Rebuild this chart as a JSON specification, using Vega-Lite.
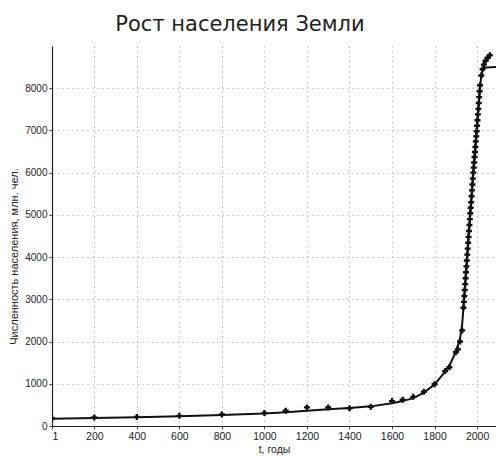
{
  "$schema": "https://vega.github.io/schema/vega-lite/v6.json",
  "width": 444,
  "height": 380,
  "autosize": "none",
  "padding": {"left": 52, "top": 46, "right": 0, "bottom": 30},
  "background": "white",
  "title": {
    "text": "Рост населения Земли",
    "font": "DejaVu Sans",
    "fontSize": 21,
    "fontWeight": "normal",
    "color": "#222222",
    "anchor": "middle",
    "frame": "group",
    "dx": -34,
    "offset": 11
  },
  "datasets": {
    "model": [
      {"t": 1, "n": 170}, {"t": 200, "n": 190}, {"t": 400, "n": 210}, {"t": 600, "n": 232},
      {"t": 800, "n": 258}, {"t": 1000, "n": 295}, {"t": 1100, "n": 325}, {"t": 1200, "n": 362},
      {"t": 1300, "n": 395}, {"t": 1400, "n": 425}, {"t": 1500, "n": 465}, {"t": 1600, "n": 540},
      {"t": 1650, "n": 590}, {"t": 1700, "n": 660}, {"t": 1750, "n": 790}, {"t": 1800, "n": 980},
      {"t": 1850, "n": 1290}, {"t": 1870, "n": 1430}, {"t": 1900, "n": 1760}, {"t": 1920, "n": 2080},
      {"t": 1930, "n": 2420}, {"t": 1936, "n": 2800}, {"t": 1950, "n": 3780}, {"t": 1960, "n": 4480},
      {"t": 1970, "n": 5170}, {"t": 1980, "n": 5860}, {"t": 1990, "n": 6490}, {"t": 2000, "n": 7110},
      {"t": 2010, "n": 7790}, {"t": 2018, "n": 8220}, {"t": 2024, "n": 8400}, {"t": 2030, "n": 8470},
      {"t": 2040, "n": 8490}, {"t": 2089, "n": 8500}
    ],
    "obs": [
      {"t": 1, "n": 185}, {"t": 200, "n": 200}, {"t": 400, "n": 215}, {"t": 600, "n": 240},
      {"t": 800, "n": 275}, {"t": 1000, "n": 310}, {"t": 1100, "n": 360}, {"t": 1200, "n": 440},
      {"t": 1300, "n": 440}, {"t": 1400, "n": 420}, {"t": 1500, "n": 455}, {"t": 1600, "n": 590},
      {"t": 1650, "n": 620}, {"t": 1700, "n": 690}, {"t": 1750, "n": 810}, {"t": 1800, "n": 990},
      {"t": 1850, "n": 1300}, {"t": 1870, "n": 1390}, {"t": 1900, "n": 1745}, {"t": 1910, "n": 1815},
      {"t": 1920, "n": 2000}, {"t": 1930, "n": 2264},
      {"t": 1936, "n": 2800}, {"t": 1938, "n": 2940}, {"t": 1940, "n": 3080}, {"t": 1942, "n": 3220},
      {"t": 1944, "n": 3360}, {"t": 1946, "n": 3500}, {"t": 1948, "n": 3640}, {"t": 1950, "n": 3780},
      {"t": 1952, "n": 3920}, {"t": 1954, "n": 4060}, {"t": 1956, "n": 4200}, {"t": 1958, "n": 4340},
      {"t": 1960, "n": 4480}, {"t": 1962, "n": 4620}, {"t": 1964, "n": 4760}, {"t": 1966, "n": 4900},
      {"t": 1968, "n": 5040}, {"t": 1970, "n": 5170}, {"t": 1972, "n": 5300}, {"t": 1974, "n": 5440},
      {"t": 1976, "n": 5580}, {"t": 1978, "n": 5720}, {"t": 1980, "n": 5860}, {"t": 1982, "n": 6000},
      {"t": 1984, "n": 6120}, {"t": 1986, "n": 6240}, {"t": 1988, "n": 6370}, {"t": 1990, "n": 6490},
      {"t": 1992, "n": 6610}, {"t": 1994, "n": 6740}, {"t": 1996, "n": 6860}, {"t": 1998, "n": 6980},
      {"t": 2000, "n": 7110}, {"t": 2002, "n": 7240}, {"t": 2004, "n": 7380}, {"t": 2006, "n": 7510},
      {"t": 2008, "n": 7650}, {"t": 2010, "n": 7790}, {"t": 2012, "n": 7930}, {"t": 2014, "n": 8070},
      {"t": 2020, "n": 8300}, {"t": 2026, "n": 8450}, {"t": 2032, "n": 8560}, {"t": 2040, "n": 8650},
      {"t": 2050, "n": 8720}, {"t": 2060, "n": 8780}
    ]
  },
  "encoding": {
    "x": {
      "field": "t", "type": "quantitative",
      "scale": {"domain": [1, 2089], "nice": false, "zero": false},
      "axis": {
        "title": "t, годы",
        "values": [1, 200, 400, 600, 800, 1000, 1200, 1400, 1600, 1800, 2000],
        "format": "d",
        "grid": true
      }
    },
    "y": {
      "field": "n", "type": "quantitative",
      "scale": {"domain": [0, 9000], "nice": false},
      "axis": {
        "title": "Численность населения, млн. чел.",
        "values": [0, 1000, 2000, 3000, 4000, 5000, 6000, 7000, 8000],
        "format": "d",
        "grid": true,
        "titleAngle": -90,
        "titleX": -38,
        "titleY": 210,
        "titleAlign": "center",
        "titleBaseline": "middle",
        "titleFontSize": 11
      }
    }
  },
  "layer": [
    {
      "data": {"name": "model"},
      "mark": {"type": "line", "color": "#111111", "strokeWidth": 2, "clip": true}
    },
    {
      "data": {"name": "obs"},
      "mark": {"type": "point", "shape": "cross", "filled": true, "color": "#111111", "size": 36, "opacity": 1, "clip": true}
    }
  ],
  "config": {
    "view": {"stroke": null},
    "axis": {
      "domainColor": "#222222",
      "domainWidth": 1.2,
      "tickColor": "#444444",
      "tickSize": 3,
      "labelFont": "Liberation Sans",
      "labelFontSize": 10,
      "labelColor": "#222222",
      "titleFont": "Liberation Sans",
      "titleFontSize": 10.5,
      "titleFontWeight": "normal",
      "titleColor": "#222222",
      "gridColor": "#8a8a8a",
      "gridDash": [1, 4],
      "gridWidth": 1,
      "gridOpacity": 0.8
    },
    "axisX": {"labelPadding": 2, "titlePadding": 3, "labelFontSize": 10.5},
    "axisY": {"labelPadding": 2}
  }
}
